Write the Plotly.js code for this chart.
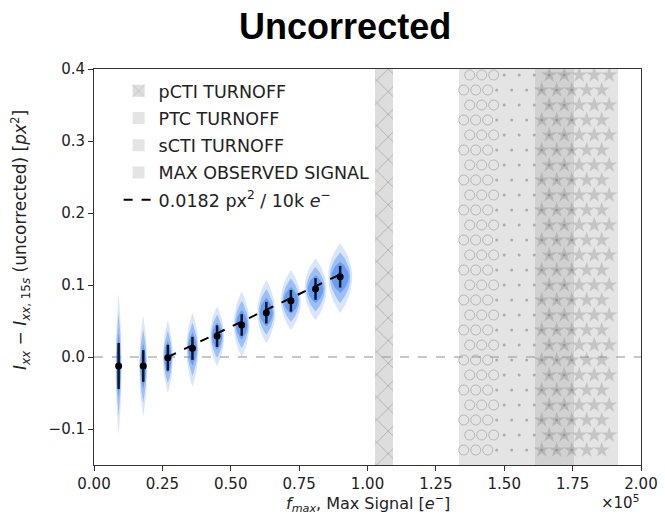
<!DOCTYPE html>
<html><head><meta charset="utf-8">
<script src="https://cdn.plot.ly/plotly-3.0.1.min.js"></script>
<style>html,body{margin:0;padding:0;background:#fff}#chart{width:665px;height:516px}</style>
</head><body><div id="chart"></div>
<script>
// ---- data ----
const signalX = [9000, 18000, 27000, 36000, 45000, 54000, 63000, 72000, 81000, 90000];
const meanY = [-0.0125, -0.0125, -0.001, 0.012, 0.029, 0.0445, 0.0615, 0.078, 0.0945, 0.1115];
const stdY = [0.032, 0.022, 0.018, 0.016, 0.015, 0.015, 0.015, 0.015, 0.015, 0.015];
const cloudTop = [0.0885, 0.058, 0.051, 0.061, 0.070, 0.091, 0.107, 0.121, 0.137, 0.158];
const cloudBottom = [-0.108, -0.083, -0.050, -0.041, -0.013, 0.000, 0.019, 0.0375, 0.051, 0.061];
const cloudHalfWidth = [1100, 1460, 1830, 2200, 2560, 2900, 3300, 3650, 4000, 4400];
const fitX = [27000, 90000];
const fitY = [0.0, 0.1147];
const bandNames = ['pCTI TURNOFF', 'PTC TURNOFF', 'sCTI TURNOFF', 'MAX OBSERVED SIGNAL'];
const bandLeft = [102700, 133500, 146600, 161200];
const bandRight = [109400, 146600, 175600, 191700];
const xTickVals = [0, 25000, 50000, 75000, 100000, 125000, 150000, 175000, 200000];
const xTickText = ['0.00', '0.25', '0.50', '0.75', '1.00', '1.25', '1.50', '1.75', '2.00'];
const yTickVals = [-0.1, 0.0, 0.1, 0.2, 0.3, 0.4];
const fitLabel = '0.0182 px<sup>2</sup> / 10k <i>e</i><sup>\u2212</sup>';

// ---- layout geometry ----
const W = 665, H = 516;
const M = {l: 94, r: 24, t: 69, b: 51};
const xRange = [0, 200000], yRange = [-0.15, 0.4];
const PW = W - M.l - M.r, PH = H - M.t - M.b;
const toPx = x => M.l + (x - xRange[0]) / (xRange[1] - xRange[0]) * PW;
const fromPx = p => xRange[0] + (p - M.l) / PW * (xRange[1] - xRange[0]);
const fromPy = p => yRange[1] - (p - M.t) / PH * (yRange[1] - yRange[0]);

const traces = [];

// bands (bars spanning full height)
const bandFill = 'rgba(165,165,165,0.3)';
const bandStyle = [
  {color: 'rgba(160,160,160,0.36)', pattern: {shape: 'x', fgcolor: 'rgba(130,130,130,0.6)', bgcolor: 'rgba(160,160,160,0.36)', size: 16, solidity: 0.09}},
  {color: bandFill},
  {color: bandFill},
  {color: bandFill}
];
bandNames.forEach((nm, i) => {
  const mk = {color: bandStyle[i].color, line: {width: 0}};
  if (bandStyle[i].pattern) mk.pattern = bandStyle[i].pattern;
  traces.push({
    type: 'bar', name: nm, legendgroup: 'g' + i,
    x: [(bandLeft[i] + bandRight[i]) / 2], width: [bandRight[i] - bandLeft[i]],
    base: [yRange[0] - 0.05], y: [yRange[1] - yRange[0] + 0.1],
    marker: mk, hoverinfo: 'skip'
  });
});

// hatch lattices for circles / dots / stars
function lattice(i, period, inset) {
  const xs = [], ys = [];
  const L = toPx(bandLeft[i]), R = toPx(bandRight[i]);
  const ax = 511.7, ay = 210;
  for (let k = -10; k < 40; k++) {
    const py = ay + 15 * k;
    if (py < M.t + 2 || py > H - M.b - 2) continue;
    const off = (Math.abs(k) % 2) ? period / 2 : 0;
    for (let j = -60; j < 60; j++) {
      const px = ax + off + period * j;
      if (px >= L + inset && px <= R - inset) { xs.push(fromPx(px)); ys.push(fromPy(py)); }
    }
  }
  return {xs, ys};
}
const circ = lattice(1, 12, -1);
traces.push({type: 'scatter', mode: 'markers', x: circ.xs, y: circ.ys, showlegend: false, hoverinfo: 'skip',
  marker: {symbol: 'circle-open', size: 10, color: 'rgba(140,140,140,0.5)', line: {width: 1}}});
const dots = lattice(2, 15, 1);
traces.push({type: 'scatter', mode: 'markers', x: dots.xs, y: dots.ys, showlegend: false, hoverinfo: 'skip',
  marker: {symbol: 'circle', size: 3, color: 'rgba(150,150,150,0.7)'}});
const stars = lattice(3, 15, 3);
traces.push({type: 'scatter', mode: 'markers', x: stars.xs, y: stars.ys, showlegend: false, hoverinfo: 'skip',
  marker: {symbol: 'star', size: 12, color: 'rgba(110,110,110,0.26)', line: {width: 0}}});

// blue sample clouds (layered spindle shapes)
const layers = [
  {f: 1.0, wf: 1.0, op: 0.2},
  {f: 0.72, wf: 0.85, op: 0.38},
  {f: 0.45, wf: 0.72, op: 0.55}
];
layers.forEach(ly => {
  const xs = [], ys = [];
  signalX.forEach((cx, i) => {
    const m = meanY[i], up = cloudTop[i] - m, dn = m - cloudBottom[i], w = cloudHalfWidth[i] * ly.wf;
    for (let s = 0; s <= 48; s++) {
      const th = s / 48 * 2 * Math.PI;
      const sn = Math.sin(th), cs = Math.cos(th);
      ys.push(m + (sn >= 0 ? up : dn) * sn * ly.f);
      xs.push(cx + w * Math.sign(cs) * Math.pow(Math.abs(cs), 1.9));
    }
    xs.push(null); ys.push(null);
  });
  traces.push({type: 'scatter', mode: 'lines', x: xs, y: ys, fill: 'toself',
    fillcolor: 'rgba(60,130,240,' + ly.op + ')', line: {width: 0}, showlegend: false, hoverinfo: 'skip'});
});

// means with std error bars
traces.push({type: 'scatter', mode: 'markers', x: signalX, y: meanY, showlegend: false,
  marker: {color: '#000', size: 7},
  error_y: {type: 'data', array: stdY, visible: true, color: '#0d1526', thickness: 2.5, width: 0}});

// linear fit
traces.push({type: 'scatter', mode: 'lines', x: fitX, y: fitY, name: fitLabel, legendgroup: 'g4',
  line: {color: '#000', width: 2, dash: 'dash'}});

const axisCommon = {
  ticks: 'outside', ticklen: 5, tickwidth: 1, tickcolor: '#333',
  showline: true, mirror: true, linecolor: '#333', linewidth: 1,
  showgrid: false, zeroline: false,
  tickfont: {family: 'DejaVu Sans', size: 15, color: '#222'}
};

const layout = {
  width: W, height: H, margin: M,
  paper_bgcolor: '#fff', plot_bgcolor: '#fff',
  barmode: 'overlay', bargap: 0,
  title: {text: '<b>Uncorrected</b>', font: {family: 'Liberation Sans', size: 36, color: '#000'},
    x: 0.519, xanchor: 'center', xref: 'container', y: 0.948, yanchor: 'middle', yref: 'container'},
  xaxis: Object.assign({}, axisCommon, {range: xRange, tickmode: 'array', tickvals: xTickVals, ticktext: xTickText}),
  yaxis: Object.assign({}, axisCommon, {range: yRange, tickmode: 'array', tickvals: yTickVals, tickformat: '.1f'}),
  showlegend: true,
  legend: {x: 0.045, y: 0.99, xanchor: 'left', yanchor: 'top', bgcolor: 'rgba(255,255,255,0.85)',
    font: {family: 'DejaVu Sans', size: 17.5, color: '#222'}, traceorder: 'grouped', tracegroupgap: 1.5},
  shapes: [{type: 'line', xref: 'paper', x0: 0, x1: 1, yref: 'y', y0: 0, y1: 0, layer: 'below',
    line: {color: '#b5b5b5', width: 1.5, dash: 'dash'}}],
  annotations: [
    {text: '<i>I</i><sub><i>xx</i></sub> \u2212 <i>I</i><sub><i>xx</i>, 15<i>s</i></sub> (uncorrected) [<i>px</i><sup>2</sup>]',
      xref: 'paper', yref: 'paper', x: (21 - M.l) / PW, y: (H - M.b - 240) / PH, textangle: -90,
      xanchor: 'center', yanchor: 'middle', showarrow: false, font: {family: 'DejaVu Sans', size: 17, color: '#222'}},
    {text: '<i>f</i><sub><i>max</i></sub>, Max Signal [<i>e</i><sup>\u2212</sup>]',
      xref: 'paper', yref: 'paper', x: 0.5, y: -(503 - (H - M.b)) / PH, xanchor: 'center', yanchor: 'middle',
      showarrow: false, font: {family: 'DejaVu Sans', size: 16, color: '#222'}},
    {text: '\u00d710<sup>5</sup>', xref: 'paper', yref: 'paper', x: 1.0, y: -(502 - (H - M.b)) / PH,
      xanchor: 'right', yanchor: 'middle', showarrow: false, font: {family: 'DejaVu Sans', size: 15, color: '#222'}}
  ]
};

Plotly.newPlot('chart', traces, layout, {staticPlot: true, displayModeBar: false});
</script></body></html>
